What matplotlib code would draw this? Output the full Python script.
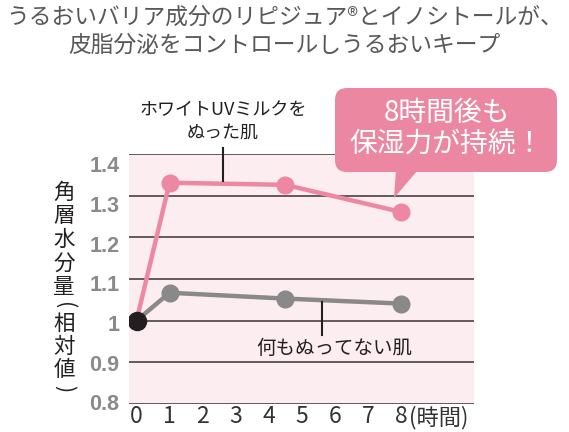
import matplotlib
matplotlib.use("Agg")
import matplotlib.pyplot as plt
from matplotlib.patches import FancyBboxPatch, Polygon

# ---- data ----
hours = [0, 1, 4.5, 8]
treated = [1.0, 1.331, 1.326, 1.261]      # ホワイトUVミルクをぬった肌
untreated = [1.0, 1.067, 1.053, 1.041]    # 何もぬってない肌
x_ticks = [0, 1, 2, 3, 4, 5, 6, 7, 8]
y_ticks = [0.8, 0.9, 1.0, 1.1, 1.2, 1.3, 1.4]
y_tick_labels = ["0.8", "0.9", "1", "1.1", "1.2", "1.3", "1.4"]
title_lines = ["うるおいバリア成分のリピジュア®とイノシトールが、",
               "皮脂分泌をコントロールしうるおいキープ"]
ylabel_chars = ["角", "層", "水", "分", "量", "(", "相", "対", "値", ")"]
label_treated = "ホワイトUVミルクを\nぬった肌"
label_untreated = "何もぬってない肌"
callout = ["8時間後も", "保湿力が持続！"]
x_unit = "(時間)"

JP = ["Noto Sans CJK JP", "DejaVu Sans"]
PINK = "#ee87a2"
BUBBLE = "#ec87a1"
GRAY = "#898989"
BG = "#fcedf1"

W, H = 569, 432
fig = plt.figure(figsize=(W / 100, H / 100), dpi=100)

# data axes
l, r, t, b = 129, 474, 154, 404
ax = fig.add_axes([l / W, 1 - b / H, (r - l) / W, (b - t) / H])
ax.set_facecolor(BG)
ax.set_xlim(-0.227, 10.21)
ax.set_ylim(0.8, 1.4)
for s in ax.spines.values():
    s.set_visible(False)
ax.set_yticks(y_ticks)
ax.set_yticklabels([])
ax.set_xticks(x_ticks)
ax.set_xticklabels([str(v) for v in x_ticks], family=JP, fontsize=16.5, color="#333333")
ax.tick_params(axis="both", length=0)
ax.tick_params(axis="x", pad=1)
ax.yaxis.grid(True, color="#4a3f42", lw=1.2)
ax.set_axisbelow(True)

# tick labels sit on a slightly compressed scale in the reference
lab = ax.twinx()
lab.set_ylim(0.7962, 1.4264)
lab.yaxis.tick_left()
lab.set_yticks(y_ticks)
lab.set_yticklabels(y_tick_labels, family=["Liberation Sans"], fontweight="bold",
                    fontsize=15.5, color="#8a8a8a")
lab.tick_params(axis="y", length=0, pad=7)
for s in lab.spines.values():
    s.set_visible(False)

ax.plot(hours, untreated, color=GRAY, lw=3.2, marker="o", ms=12,
        solid_capstyle="round", zorder=3)
ax.plot(hours, treated, color=PINK, lw=3.2, marker="o", ms=12,
        solid_capstyle="round", zorder=4)
ax.plot([hours[0]], [treated[0]], marker="o", ms=13, color="#231f20", zorder=5)

# overlay axes in pixel coordinates
ov = fig.add_axes([0, 0, 1, 1])
ov.set_xlim(0, W)
ov.set_ylim(H, 0)
ov.axis("off")
ov.patch.set_alpha(0)

ov.text(284.5, 17, title_lines[0], family=JP, fontsize=16.4, color="#5a5757",
        ha="center", va="center")
ov.text(284.5, 45, title_lines[1], family=JP, fontsize=16.4, color="#5a5757",
        ha="center", va="center")

# vertical y label (stacked characters, brackets turned for vertical writing)
y = 193
for ch in ylabel_chars:
    if ch in "()":
        yy = y - 5
        ov.text(64, yy, ch, family=JP, fontsize=15.5, color="#231f20",
                ha="center", va="center", rotation=-90, rotation_mode="anchor")
        y += 13
    else:
        ov.text(64, y, ch, family=JP, fontsize=15.5, color="#231f20",
                ha="center", va="center")
        y += 23.5

# x unit
ov.text(409, 418, x_unit, family=JP, fontsize=16, color="#333333",
        ha="left", va="center")

# annotation labels and leader lines
ov.text(223, 121, label_treated, family=JP, fontsize=13, color="#231f20",
        ha="center", va="center", linespacing=1.35)
ov.plot([223, 223], [148, 181], color="#231f20", lw=1.5)
ov.text(334, 348, label_untreated, family=JP, fontsize=14, color="#231f20",
        ha="center", va="center")
ov.plot([322, 322], [302, 335], color="#231f20", lw=1.5)

# callout bubble
bub = FancyBboxPatch((335, 88), 222, 84, boxstyle="round,pad=0,rounding_size=12",
                     fc=BUBBLE, ec="none", zorder=5)
ov.add_patch(bub)
ov.add_patch(Polygon([[396, 170], [418, 170], [394, 198]], closed=True,
                     fc=BUBBLE, ec="none", zorder=5))
ov.text(447, 113, callout[0], family=JP, fontsize=20, color="white",
        ha="center", va="center", zorder=6)
ov.text(447, 145, callout[1], family=JP, fontsize=20, color="white",
        ha="center", va="center", zorder=6)

fig.savefig("out.png", dpi=100)
